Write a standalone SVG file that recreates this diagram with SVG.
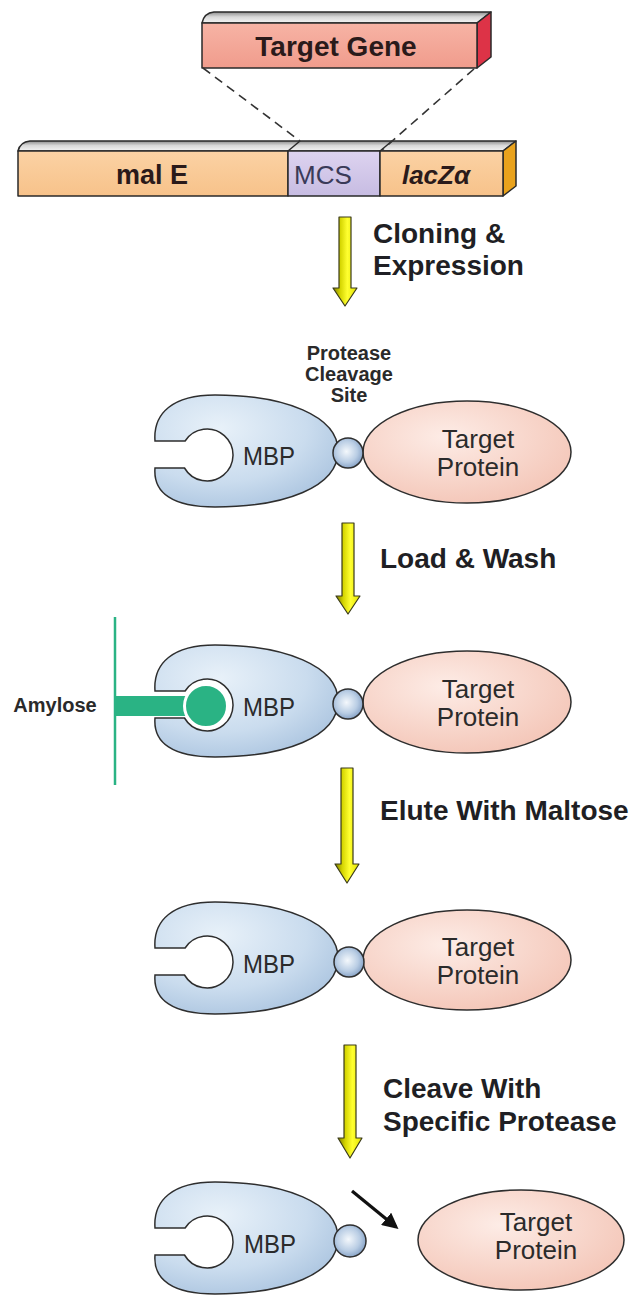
<svg xmlns="http://www.w3.org/2000/svg" width="644" height="1295" viewBox="0 0 644 1295">
  <defs>
    <linearGradient id="gTopFace" x1="0" y1="0" x2="0" y2="1">
      <stop offset="0" stop-color="#8e8e8e"/>
      <stop offset="0.45" stop-color="#d8d8d8"/>
      <stop offset="1" stop-color="#f4f4f4"/>
    </linearGradient>
    <linearGradient id="gGene" x1="0" y1="0" x2="0" y2="1">
      <stop offset="0" stop-color="#f7b3a5"/>
      <stop offset="1" stop-color="#f09c8c"/>
    </linearGradient>
    <linearGradient id="gPeach" x1="0" y1="0" x2="0" y2="1">
      <stop offset="0" stop-color="#fbd2a4"/>
      <stop offset="1" stop-color="#f7c28a"/>
    </linearGradient>
    <linearGradient id="gMCS" x1="0" y1="0" x2="0" y2="1">
      <stop offset="0" stop-color="#ddd3f0"/>
      <stop offset="1" stop-color="#c7bce2"/>
    </linearGradient>
    <linearGradient id="gArrow" x1="0" y1="0" x2="1" y2="0">
      <stop offset="0" stop-color="#7a7a00"/>
      <stop offset="0.3" stop-color="#d4d400"/>
      <stop offset="0.6" stop-color="#ffff30"/>
      <stop offset="1" stop-color="#e2e200"/>
    </linearGradient>
    <radialGradient id="gMBP" cx="0.35" cy="0.3" r="0.8">
      <stop offset="0" stop-color="#e8f1f9"/>
      <stop offset="0.6" stop-color="#cadcee"/>
      <stop offset="1" stop-color="#a8c2de"/>
    </radialGradient>
    <radialGradient id="gTarget" cx="0.4" cy="0.35" r="0.75">
      <stop offset="0" stop-color="#fdece6"/>
      <stop offset="1" stop-color="#f3c3b4"/>
    </radialGradient>
    <radialGradient id="gSphere" cx="0.45" cy="0.45" r="0.6">
      <stop offset="0" stop-color="#f4f8fc"/>
      <stop offset="0.6" stop-color="#b9cde4"/>
      <stop offset="1" stop-color="#7f9cc2"/>
    </radialGradient>
    <marker id="mHead" viewBox="0 0 10 10" refX="8" refY="5" markerWidth="5" markerHeight="5" orient="auto">
      <path d="M0,0 L10,5 L0,10 Z" fill="#111"/>
    </marker>
    <!-- maltose-binding protein with its open binding pocket on the left -->
    <path id="mbpShape" d="M -90,-10 C -92,-38 -72,-56 -30,-56 C 40,-56 93,-35 93,0 C 93,36 40,56 -30,56 C -72,56 -92,42 -90,17 L -60.5,17 A 26 26 0 1 0 -59.9,-10 Z"/>
  </defs>
  <style>
    .edge { stroke: #2a2a2a; stroke-width: 1.5; stroke-linejoin: round; }
    .arrow { fill: url(#gArrow); stroke: #3a3a1a; stroke-width: 1.2; stroke-linejoin: round; }
    .mbp { fill: url(#gMBP); stroke: #2e2e2e; stroke-width: 1.5; }
    .target { fill: url(#gTarget); stroke: #2e2e2e; stroke-width: 1.5; }
    .sphere { fill: url(#gSphere); stroke: #2e2e2e; stroke-width: 1.5; }
    .step { font-family: "Liberation Sans", Arial, sans-serif; font-weight: bold; font-size: 28px; fill: #1f1f24; }
    .lbl { font-family: "Liberation Sans", Arial, sans-serif; font-size: 26px; fill: #2b2b2b; text-anchor: middle; }
    .gene { font-family: "Liberation Sans", Arial, sans-serif; font-weight: bold; font-size: 27px; fill: #2a1a1a; text-anchor: middle; }
    .mcs { font-family: "Liberation Sans", Arial, sans-serif; font-size: 26px; fill: #3a3a58; text-anchor: middle; }
    .site { font-family: "Liberation Sans", Arial, sans-serif; font-weight: bold; font-size: 20px; fill: #2a2a2a; text-anchor: middle; }
    .dash { stroke: #333; stroke-width: 1.6; stroke-dasharray: 9 6; fill: none; }
  </style>

  <!-- insert: target gene block -->
  <g id="gene-target">
    <path d="M202,23 Q204,13 214,12 L491,12 L477,23 Z" fill="url(#gTopFace)" class="edge"/>
    <path d="M477,23 L491,12 L491,57 L477,68 Z" fill="#dd3347" class="edge"/>
    <rect x="202" y="23" width="275" height="45" fill="url(#gGene)" class="edge"/>
    <text class="gene" x="336" y="56" style="font-size:28px">Target Gene</text>
  </g>

  <!-- vector: malE / MCS / lacZ alpha -->
  <g id="gene-vector">
    <path d="M18,151 Q20,142 30,141 L516,141 L503,151 Z" fill="url(#gTopFace)" class="edge"/>
    <path d="M503,151 L516,141 L516,186 L503,196 Z" fill="#e9a21c" class="edge"/>
    <rect x="18" y="151" width="270" height="45" fill="url(#gPeach)" class="edge"/>
    <rect x="288" y="151" width="92" height="45" fill="url(#gMCS)" class="edge"/>
    <rect x="380" y="151" width="123" height="45" fill="url(#gPeach)" class="edge"/>
    <line x1="288" y1="151" x2="300" y2="141" class="edge"/>
    <line x1="380" y1="151" x2="392" y2="141" class="edge"/>
    <text class="gene" x="152" y="184">mal E</text>
    <text class="mcs" x="323" y="184">MCS</text>
    <text class="gene" x="436" y="184" style="font-style:italic;font-size:26px">lacZα</text>
  </g>

  <!-- connectors: insertion guides, process arrows, release arrow -->
  <g id="connectors">
    <line x1="203" y1="68" x2="300" y2="141" class="dash"/>
    <line x1="474" y1="69" x2="382" y2="150" class="dash"/>
    <path class="arrow" d="M339,217 L351,217 L351,288 L357,288 L345,306 L333,288 L339,288 Z"/>
    <path class="arrow" d="M342,523 L354,523 L354,596 L360,596 L348,614 L336,596 L342,596 Z"/>
    <path class="arrow" d="M341,768 L353,768 L353,864 L359,864 L347,883 L335,864 L341,864 Z"/>
    <path class="arrow" d="M344,1045 L356,1045 L356,1138 L362,1138 L350,1158 L338,1138 L344,1138 Z"/>
    <line x1="352" y1="1191" x2="396" y2="1227" stroke="#111" stroke-width="3.2" marker-end="url(#mHead)"/>
  </g>

  <!-- step labels -->
  <g id="step-labels">
    <text class="step" x="373" y="243">Cloning &amp;</text>
    <text class="step" x="373" y="275">Expression</text>
    <text class="step" x="380" y="568">Load &amp; Wash</text>
    <text class="step" x="380" y="820">Elute With Maltose</text>
    <text class="step" x="383" y="1098">Cleave With</text>
    <text class="step" x="383" y="1131">Specific Protease</text>
  </g>

  <!-- fusion protein after expression -->
  <g id="fusion-expressed" transform="translate(245,451)">
    <text class="site" x="104" y="-91">Protease</text>
    <text class="site" x="104" y="-70">Cleavage</text>
    <text class="site" x="104" y="-49">Site</text>
    <use href="#mbpShape" class="mbp"/>
    <ellipse cx="222" cy="1" rx="104" ry="51" class="target"/>
    <circle cx="103" cy="2" r="15" class="sphere"/>
    <text class="lbl" x="24" y="14" textLength="52" lengthAdjust="spacingAndGlyphs">MBP</text>
    <text class="lbl" x="233" y="-3">Target</text>
    <text class="lbl" x="233" y="25">Protein</text>
  </g>

  <!-- fusion protein bound to amylose resin -->
  <g id="fusion-bound" transform="translate(245,701)">
    <use href="#mbpShape" class="mbp"/>
    <line x1="-130" y1="-84" x2="-130" y2="84" stroke="#2ab384" stroke-width="2.5"/>
    <rect x="-130" y="-5" width="90" height="20" fill="#2ab384"/>
    <circle cx="-39" cy="5" r="21.5" fill="#2ab384" stroke="#ffffff" stroke-width="3"/>
    <ellipse cx="222" cy="1" rx="104" ry="51" class="target"/>
    <circle cx="103" cy="3" r="15" class="sphere"/>
    <text class="lbl" x="24" y="15" textLength="52" lengthAdjust="spacingAndGlyphs">MBP</text>
    <text class="lbl" x="233" y="-3">Target</text>
    <text class="lbl" x="233" y="25">Protein</text>
    <text x="-190" y="11" text-anchor="middle" font-family="Liberation Sans, Arial, sans-serif" font-weight="bold" font-size="20" fill="#2a2a2a">Amylose</text>
  </g>

  <!-- eluted fusion protein -->
  <g id="fusion-eluted" transform="translate(245,958)">
    <use href="#mbpShape" class="mbp"/>
    <ellipse cx="222" cy="2" rx="104" ry="50" class="target"/>
    <circle cx="104" cy="4" r="15" class="sphere"/>
    <text class="lbl" x="24" y="15" textLength="52" lengthAdjust="spacingAndGlyphs">MBP</text>
    <text class="lbl" x="233" y="-2">Target</text>
    <text class="lbl" x="233" y="26">Protein</text>
  </g>

  <!-- cleaved products -->
  <g id="cleaved-mbp" transform="translate(245,1238)">
    <use href="#mbpShape" class="mbp"/>
    <circle cx="105" cy="3" r="16" class="sphere"/>
    <text class="lbl" x="25" y="15" textLength="52" lengthAdjust="spacingAndGlyphs">MBP</text>
  </g>
  <g id="cleaved-target">
    <ellipse cx="521" cy="1240" rx="103" ry="50" class="target"/>
    <text class="lbl" x="536" y="1231">Target</text>
    <text class="lbl" x="536" y="1259">Protein</text>
  </g>
</svg>
